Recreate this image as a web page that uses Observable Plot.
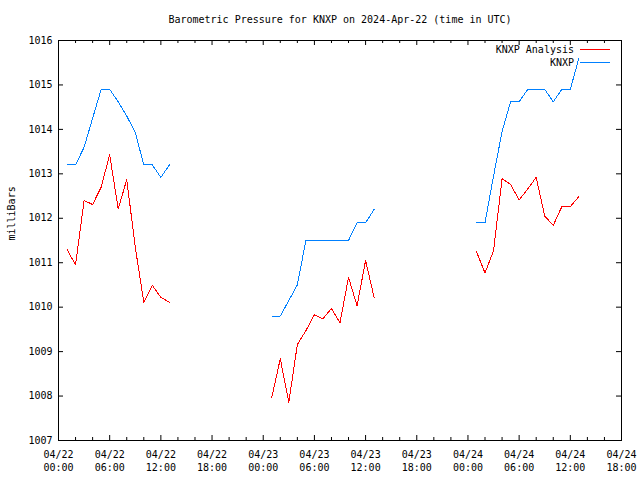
<!DOCTYPE html>
<html>
<head>
<meta charset="utf-8">
<script src="https://cdn.jsdelivr.net/npm/d3@7"></script>
<script src="https://cdn.jsdelivr.net/npm/@observablehq/plot@0.6"></script>
<style>
  html, body { margin: 0; padding: 0; background: #fff; }
  svg { display: block; }
</style>
</head>
<body>
<div id="chart"></div>
<script>
// ---- data (hours after 2024-04-22 00:00 UTC) ----
const hours1 = [1, 2, 3, 4, 5, 6, 7, 8, 9, 10, 11, 12, 13];
const hours2 = [25, 26, 27, 28, 29, 30, 31, 32, 33, 34, 35, 36, 37];
const hours3 = [49, 50, 51, 52, 53, 54, 55, 56, 57, 58, 59, 60, 61];

const analysis1 = [1011.30, 1010.95, 1012.40, 1012.31, 1012.70, 1013.43, 1012.21, 1012.87, 1011.35, 1010.11, 1010.49, 1010.22, 1010.11];
const analysis2 = [1007.97, 1008.84, 1007.86, 1009.16, 1009.47, 1009.83, 1009.74, 1009.97, 1009.65, 1010.67, 1010.03, 1011.05, 1010.22];
const analysis3 = [1011.25, 1010.77, 1011.27, 1012.89, 1012.76, 1012.41, 1012.66, 1012.92, 1012.05, 1011.84, 1012.26, 1012.26, 1012.49];

const knxp1 = [1013.2, 1013.2, 1013.6, 1014.25, 1014.9, 1014.9, 1014.62, 1014.3, 1013.93, 1013.2, 1013.2, 1012.92, 1013.2];
const knxp2 = [1009.8, 1009.8, 1010.15, 1010.5, 1011.5, 1011.5, 1011.5, 1011.5, 1011.5, 1011.5, 1011.9, 1011.9, 1012.2];
const knxp3 = [1011.9, 1011.9, 1012.95, 1013.95, 1014.62, 1014.62, 1014.9, 1014.9, 1014.9, 1014.62, 1014.9, 1014.9, 1015.6];

const seriesNames = ["KNXP Analysis", "KNXP"];
const seriesColors = ["#ff0000", "#0080ff"];

const xTickHours = [0, 6, 12, 18, 24, 30, 36, 42, 48, 54, 60, 66];
const xMinorHours = [2, 4, 8, 10, 14, 16, 20, 22, 26, 28, 32, 34, 38, 40, 44, 46, 50, 52, 56, 58, 62, 64];
const yTicks = [1007, 1008, 1009, 1010, 1011, 1012, 1013, 1014, 1015, 1016];

const titleText = "Barometric Pressure for KNXP on 2024-Apr-22 (time in UTC)";
const yLabel = "milliBars";

// ---- build table ----
const base = Date.UTC(2024, 3, 22, 0, 0);
const toDate = h => new Date(base + h * 3600e3);
const rows = [];
[[hours1, analysis1, knxp1], [hours2, analysis2, knxp2], [hours3, analysis3, knxp3]].forEach(([hs, an, kn], seg) => {
  hs.forEach((h, i) => {
    rows.push({t: toDate(h), v: an[i], series: seriesNames[0], z: seriesNames[0] + seg});
    rows.push({t: toDate(h), v: kn[i], series: seriesNames[1], z: seriesNames[1] + seg});
  });
});

const FONT = "'DejaVu Sans Mono', monospace";
const W = 640, H = 480, ML = 58, MR = 19, MT = 40, MB = 40;
const FW = W - ML - MR, FH = H - MT - MB;
const fmtDate = d3.utcFormat("%m/%d");
const fmtTime = d3.utcFormat("%H:%M");

function legendMark(index, scales, values, dimensions) {
  const g = d3.create("svg:g").attr("font-family", FONT).attr("font-size", 10);
  const xr = dimensions.width - dimensions.marginRight;
  seriesNames.forEach((name, i) => {
    const y = dimensions.marginTop + 9.5 + i * 13;
    g.append("text").attr("x", xr - 47).attr("y", y).attr("dy", "0.32em")
      .attr("text-anchor", "end").attr("fill", "black").text(name);
    g.append("line").attr("x1", xr - 41).attr("x2", xr - 11)
      .attr("y1", y).attr("y2", y).attr("stroke", seriesColors[i])
      .attr("stroke-width", 1).attr("shape-rendering", "crispEdges");
  });
  return g.node();
}

const chart = Plot.plot({
  width: W, height: H,
  marginLeft: ML, marginRight: MR, marginTop: MT, marginBottom: MB,
  style: {fontFamily: FONT, fontSize: "10px", background: "white", color: "black"},
  x: {type: "utc", domain: [toDate(0), toDate(66)], axis: null},
  y: {domain: [1007, 1016], axis: null},
  color: {domain: seriesNames, range: seriesColors},
  marks: [
    // minor x ticks (inward, top & bottom)
    Plot.ruleX(xMinorHours.map(toDate), {insetTop: FH - 3, stroke: "black"}),
    Plot.ruleX(xMinorHours.map(toDate), {insetBottom: FH - 3, stroke: "black"}),
    // major x ticks
    Plot.ruleX(xTickHours.map(toDate), {insetTop: FH - 5, stroke: "black"}),
    Plot.ruleX(xTickHours.map(toDate), {insetBottom: FH - 5, stroke: "black"}),
    // y ticks, left & right
    Plot.ruleY(yTicks, {insetRight: FW - 5, stroke: "black"}),
    Plot.ruleY(yTicks, {insetLeft: FW - 5, stroke: "black"}),
    // data lines
    Plot.line(rows, {x: "t", y: "v", z: "z", stroke: "series", strokeWidth: 1, curve: "linear",
      shapeRendering: "crispEdges"}),
    Plot.frame({stroke: "black", strokeWidth: 1}),
    // y tick labels
    Plot.text(yTicks, {y: d => d, text: d => String(d), frameAnchor: "left", dx: -6, textAnchor: "end", fill: "black"}),
    // x tick labels
    Plot.text(xTickHours.map(toDate), {x: d => d, text: d => fmtDate(d) + "\n" + fmtTime(d),
      frameAnchor: "bottom", lineAnchor: "top", dy: 8, lineHeight: 1.3, fill: "black"}),
    // title
    Plot.text([titleText], {text: d => d, frameAnchor: "top", lineAnchor: "middle", dy: -21, fill: "black"}),
    // y label
    Plot.text([yLabel], {text: d => d, frameAnchor: "left", rotate: -90, dx: -47, lineAnchor: "middle", fill: "black"}),
    legendMark
  ]
});
document.getElementById("chart").append(chart);
</script>
</body>
</html>
